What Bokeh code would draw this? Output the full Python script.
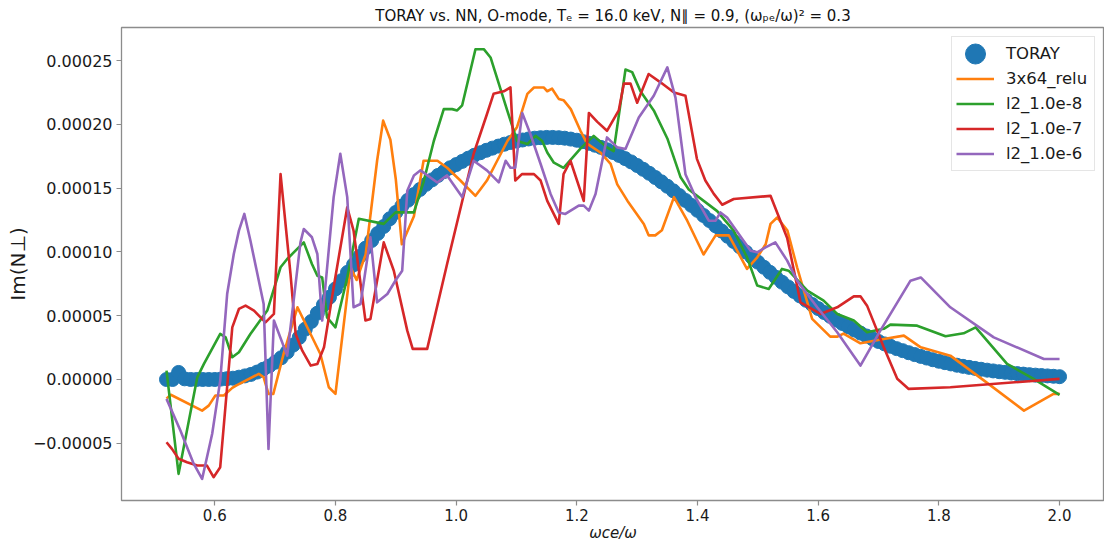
import numpy as np
from bokeh.plotting import figure
from bokeh.models import Range1d, FixedTicker, CustomJSTickFormatter
from bokeh.embed import file_html
from bokeh.resources import INLINE

# ---------------- data (y values in units of 1e-5) ----------------
toray_e5 = [
    0.0, 0.0, 0.55, 0.05, 0.0, 0.0, 0.0, 0.0, 0.0, 0.03,
    0.06, 0.10, 0.18, 0.28, 0.40, 0.58, 0.80, 1.05, 1.35, 1.70,
    2.15, 2.70, 3.30, 3.95, 4.55, 5.20, 5.85, 6.45, 7.10, 7.75,
    8.40, 9.00, 9.65, 10.30, 10.90, 11.45, 12.00, 12.60, 13.10, 13.60,
    14.05, 14.50, 14.90, 15.30, 15.65, 16.00, 16.30, 16.60, 16.85, 17.10,
    17.35, 17.58, 17.78, 17.97, 18.14, 18.30, 18.45, 18.58, 18.69, 18.78,
    18.86, 18.92, 18.96, 18.98, 18.98, 18.96, 18.92, 18.85, 18.76, 18.65,
    18.52, 18.37, 18.20, 18.01, 17.80, 17.57, 17.32, 17.06, 16.78, 16.48,
    16.17, 15.84, 15.50, 15.15, 14.79, 14.42, 14.04, 13.65, 13.26, 12.86,
    12.46, 12.05, 11.64, 11.23, 10.82, 10.41, 10.00, 9.60, 9.20, 8.80,
    8.40, 8.01, 7.63, 7.26, 6.90, 6.55, 6.21, 5.88, 5.56, 5.25,
    4.95, 4.66, 4.39, 4.13, 3.88, 3.64, 3.41, 3.19, 2.98, 2.79,
    2.60, 2.42, 2.26, 2.10, 1.95, 1.81, 1.68, 1.55, 1.43, 1.32,
    1.22, 1.12, 1.03, 0.95, 0.87, 0.80, 0.73, 0.67, 0.61, 0.56,
    0.51, 0.46, 0.42, 0.38, 0.34, 0.31, 0.28, 0.25, 0.22,
]
toray_x = np.linspace(0.52, 2.0, len(toray_e5))

relu_x = [0.52, 0.527, 0.579, 0.590, 0.601, 0.615, 0.629, 0.636, 0.673, 0.681,
          0.689, 0.697, 0.714, 0.737, 0.775, 0.789, 0.800, 0.825, 0.835, 0.850,
          0.869, 0.879, 0.891, 0.900, 0.910, 0.930, 0.946, 0.969, 0.985, 1.007,
          1.032, 1.040, 1.051, 1.068, 1.085, 1.101, 1.118, 1.129, 1.145, 1.151,
          1.159, 1.170, 1.178, 1.190, 1.206, 1.217, 1.239, 1.256, 1.267, 1.284,
          1.311, 1.319, 1.330, 1.341, 1.361, 1.383, 1.410, 1.430, 1.452, 1.482,
          1.499, 1.513, 1.521, 1.532, 1.549, 1.565, 1.590, 1.620, 1.632, 1.642,
          1.670, 1.709, 1.742, 1.770, 1.819, 1.875, 1.941, 1.990, 2.0]
relu_e5 = [-1.5, -1.2, -2.44, -2.05, -1.26, -1.26, -0.66, -0.47, 0.44, 0.17,
           -1.13, -1.13, 2.0, 5.66, 2.0, -0.61, -1.13, 8.79, 7.8, 9.8,
           17.15, 20.3, 18.8, 15.7, 10.6, 12.8, 17.15, 17.15, 16.6, 15.6,
           14.4, 14.9, 15.6, 17.15, 18.7, 19.8, 22.4, 22.9, 22.9, 22.6,
           22.8, 22.0, 21.9, 21.2, 19.5, 18.5, 17.8, 16.9, 15.3, 14.0,
           12.2, 11.3, 11.3, 11.7, 14.3, 12.45, 9.8, 11.3, 11.3, 8.67,
           9.58, 10.6, 12.2, 12.7, 11.67, 8.8, 4.75, 3.36, 3.36, 3.6,
           2.84, 3.18, 3.44, 2.52, 1.87, -0.09, -2.44, -1.13, -1.13]

l2e8_x = [0.52, 0.540, 0.571, 0.582, 0.609, 0.618, 0.629, 0.640, 0.659, 0.687,
          0.709, 0.720, 0.7475, 0.761, 0.770, 0.778, 0.786, 0.800, 0.8195, 0.8387,
          0.880, 0.8995, 0.930, 0.946, 0.963, 0.9795, 0.9934, 1.0017, 1.010, 1.032,
          1.0458, 1.057, 1.0707, 1.0846, 1.101, 1.118, 1.1315, 1.1426, 1.151, 1.162,
          1.178, 1.206, 1.228, 1.250, 1.261, 1.2806, 1.2917, 1.3055, 1.3275, 1.350,
          1.372, 1.3855, 1.4326, 1.460, 1.482, 1.499, 1.518, 1.540, 1.551, 1.582,
          1.609, 1.6315, 1.659, 1.681, 1.7087, 1.7197, 1.764, 1.811, 1.841, 1.861,
          1.913, 1.957, 2.0]
l2e8_e5 = [0.7, -7.4, 0.17, 1.22, 3.57, 3.3, 1.74, 2.13, 3.57, 5.4,
           8.8, 9.45, 10.75, 9.06, 8.14, 8.0, 4.87, 4.09, 8.0, 12.6,
           12.2, 13.1, 13.1, 15.5, 18.7, 21.2, 21.2, 21.1, 21.5, 25.9,
           25.9, 25.25, 23.2, 21.1, 18.7, 18.46, 19.1, 18.7, 17.8, 17.0,
           16.6, 18.1, 19.1, 18.2, 17.9, 24.3, 24.1, 22.6, 21.1, 18.9,
           15.85, 14.9, 13.2, 11.67, 9.58, 7.36, 7.1, 8.67, 8.53, 6.97,
           6.18, 5.14, 4.62, 3.7, 3.97, 4.3, 4.22, 3.39, 3.62, 4.09,
           1.22, 0.05, -1.2]

l2e7_x = [0.52, 0.529, 0.540, 0.554, 0.571, 0.587, 0.598, 0.609, 0.629, 0.640,
          0.651, 0.665, 0.684, 0.698, 0.709, 0.7255, 0.734, 0.745, 0.759, 0.770,
          0.781, 0.797, 0.8195, 0.830, 0.8497, 0.858, 0.880, 0.8967, 0.919, 0.928,
          0.952, 0.985, 1.029, 1.051, 1.062, 1.079, 1.090, 1.098, 1.109, 1.129,
          1.140, 1.151, 1.170, 1.178, 1.1895, 1.2115, 1.220, 1.234, 1.250, 1.2695,
          1.278, 1.289, 1.300, 1.319, 1.3386, 1.361, 1.380, 1.399, 1.413, 1.427,
          1.441, 1.460, 1.521, 1.5486, 1.5707, 1.6038, 1.6315, 1.659, 1.670, 1.681,
          1.7087, 1.731, 1.750, 1.819, 2.0]
l2e7_e5 = [-4.92, -5.44, -6.22, -6.49, -6.75, -6.75, -7.66, -6.88, 4.09, 5.53,
           5.79, 5.4, 4.48, 5.14, 16.1, 8.27, 3.57, 2.26, 1.09, 1.22,
           2.52, 7.23, 13.5, 11.67, 4.62, 4.75, 10.75, 8.53, 3.83, 2.4,
           2.4, 9.06, 17.7, 20.8, 22.4, 22.6, 22.9, 15.6, 16.1, 16.1,
           15.6, 14.0, 12.2, 16.1, 17.15, 14.0, 20.9, 20.2, 19.5, 21.1,
           23.2, 23.2, 21.7, 23.95, 23.3, 22.5, 22.25, 17.3, 15.6, 14.55,
           13.7, 14.15, 14.4, 11.1, 6.05, 5.14, 5.66, 6.52, 6.52, 5.79,
           2.52, 0.05, -0.74, -0.61, 0.05]

l2e6_x = [0.52, 0.543, 0.565, 0.579, 0.5957, 0.609, 0.6205, 0.6315, 0.640, 0.649,
          0.659, 0.681, 0.689, 0.698, 0.720, 0.742, 0.7475, 0.761, 0.770, 0.778,
          0.797, 0.808, 0.8195, 0.830, 0.8415, 0.858, 0.869, 0.886, 0.900, 0.9106,
          0.919, 0.930, 0.941, 0.9686, 0.985, 1.010, 1.029, 1.051, 1.0707, 1.082,
          1.090, 1.098, 1.1095, 1.123, 1.140, 1.1565, 1.170, 1.181, 1.2032, 1.2115,
          1.220, 1.231, 1.250, 1.2669, 1.2806, 1.3027, 1.3275, 1.350, 1.3635, 1.380,
          1.3967, 1.4187, 1.430, 1.438, 1.449, 1.488, 1.499, 1.5127, 1.529, 1.5486,
          1.565, 1.5984, 1.6315, 1.670, 1.703, 1.753, 1.770, 1.819, 1.891, 1.974,
          2.0]
l2e6_e5 = [-1.52, -4.0, -6.6, -7.8, -4.26, -0.09, 6.7, 9.84, 11.67, 12.98,
           10.9, 5.92, -5.44, 4.62, 1.87, 10.75, 11.8, 11.15, 9.84, 4.62,
           14.3, 17.7, 14.3, 5.66, 5.92, 11.15, 6.05, 6.7, 7.8, 8.53,
           14.8, 16.0, 16.4, 15.45, 16.0, 14.3, 17.15, 16.4, 15.45, 17.15,
           16.6, 16.6, 20.9, 19.25, 16.9, 14.55, 13.1, 12.98, 13.63, 13.63,
           13.24, 14.55, 18.98, 18.2, 18.07, 20.55, 22.25, 24.47, 22.1, 16.1,
           14.3, 12.45, 12.45, 13.1, 12.7, 10.1, 9.97, 10.36, 10.75, 9.32,
           7.75, 5.66, 3.7, 1.09, 3.83, 7.75, 8.0, 5.66, 3.3, 1.61,
           1.61]

x_ticks = [0.6, 0.8, 1.0, 1.2, 1.4, 1.6, 1.8, 2.0]
y_ticks = [-0.00005, 0.0, 0.00005, 0.0001, 0.00015, 0.0002, 0.00025]

SCALE = 1e-5
def sc(vals):
    return [v * SCALE for v in vals]

FONT = "DejaVu Sans"
GRAY = "#8c8c8c"

p = figure(width=1104, height=544, output_backend="svg", toolbar_location=None,
           x_range=Range1d(0.4454, 2.0745), y_range=Range1d(-0.0000949, 0.000276),
           min_border_left=121, min_border_right=0, min_border_top=27,
           min_border_bottom=44,
           title="TORAY vs. NN, O-mode, Tₑ = 16.0 keV, N∥ = 0.9, (ωₚₑ/ω)² = 0.3")
p.title.align = "center"
p.title.text_font = FONT
p.title.text_font_size = "15px"
p.title.text_font_style = "normal"
p.title.text_color = "#111111"
p.title.standoff = 6

p.grid.visible = False
p.outline_line_color = GRAY
p.outline_line_width = 1.3
p.background_fill_color = "white"
p.border_fill_color = "white"

xa = p.xaxis[0]
xa.ticker = FixedTicker(ticks=x_ticks)
xa.formatter = CustomJSTickFormatter(code="return tick.toFixed(1);")
xa.axis_label = "ωce/ω"
xa.axis_label_text_font = FONT
xa.axis_label_text_font_style = "italic"
xa.axis_label_text_font_size = "15px"
xa.axis_label_standoff = 0
xa.major_label_text_font = FONT
xa.major_label_text_font_size = "15px"
xa.major_label_standoff = 3

ya = p.yaxis[0]
ya.ticker = FixedTicker(ticks=y_ticks)
ya.formatter = CustomJSTickFormatter(
    code="return (tick < -1e-12 ? '\u2212' : '') + Math.abs(tick).toFixed(5);")
ya.axis_label = "Im(N⊥)"
ya.axis_label_text_font = FONT
ya.axis_label_text_font_style = "normal"
ya.axis_label_text_font_size = "20px"
ya.axis_label_standoff = 0
ya.major_label_text_font = FONT
ya.major_label_text_font_size = "16px"
ya.major_label_standoff = 4

for ax in (xa, ya):
    ax.axis_line_color = None
    ax.major_tick_out = 5
    ax.major_tick_in = 0
    ax.minor_tick_out = 0
    ax.minor_tick_in = 0
    ax.major_tick_line_color = GRAY
    ax.major_tick_line_width = 1.2
    ax.major_label_text_color = "#1a1a1a"
    ax.axis_label_text_color = "#1a1a1a"

# TORAY points drawn as 14 px circles (ellipse glyph, screen-sized)
p.ellipse(toray_x, sc(toray_e5), width=14, height=14, width_units="screen",
          height_units="screen", fill_color="#1f77b4", line_color="#1f77b4",
          legend_label="TORAY")
LW = 2.6
p.line(relu_x, sc(relu_e5), line_width=LW, color="#ff7f0e", line_join="round",
       legend_label="3x64_relu")
p.line(l2e8_x, sc(l2e8_e5), line_width=LW, color="#2ca02c", line_join="round",
       legend_label="l2_1.0e-8")
p.line(l2e7_x, sc(l2e7_e5), line_width=LW, color="#d62728", line_join="round",
       legend_label="l2_1.0e-7")
p.line(l2e6_x, sc(l2e6_e5), line_width=LW, color="#9467bd", line_join="round",
       legend_label="l2_1.0e-6")

lg = p.legend[0]
lg.location = "top_right"
lg.margin = 9
lg.padding = 4
lg.spacing = 0
lg.glyph_width = 38
lg.glyph_height = 25
lg.label_height = 25
lg.label_standoff = 12
lg.label_width = 84
lg.label_text_font = FONT
lg.label_text_font_size = "16.5px"
lg.label_text_color = "#1a1a1a"
lg.border_line_color = "#cccccc"
lg.border_line_width = 1.2
lg.background_fill_alpha = 0.8

open("out.html", "w").write(file_html(p, INLINE))
